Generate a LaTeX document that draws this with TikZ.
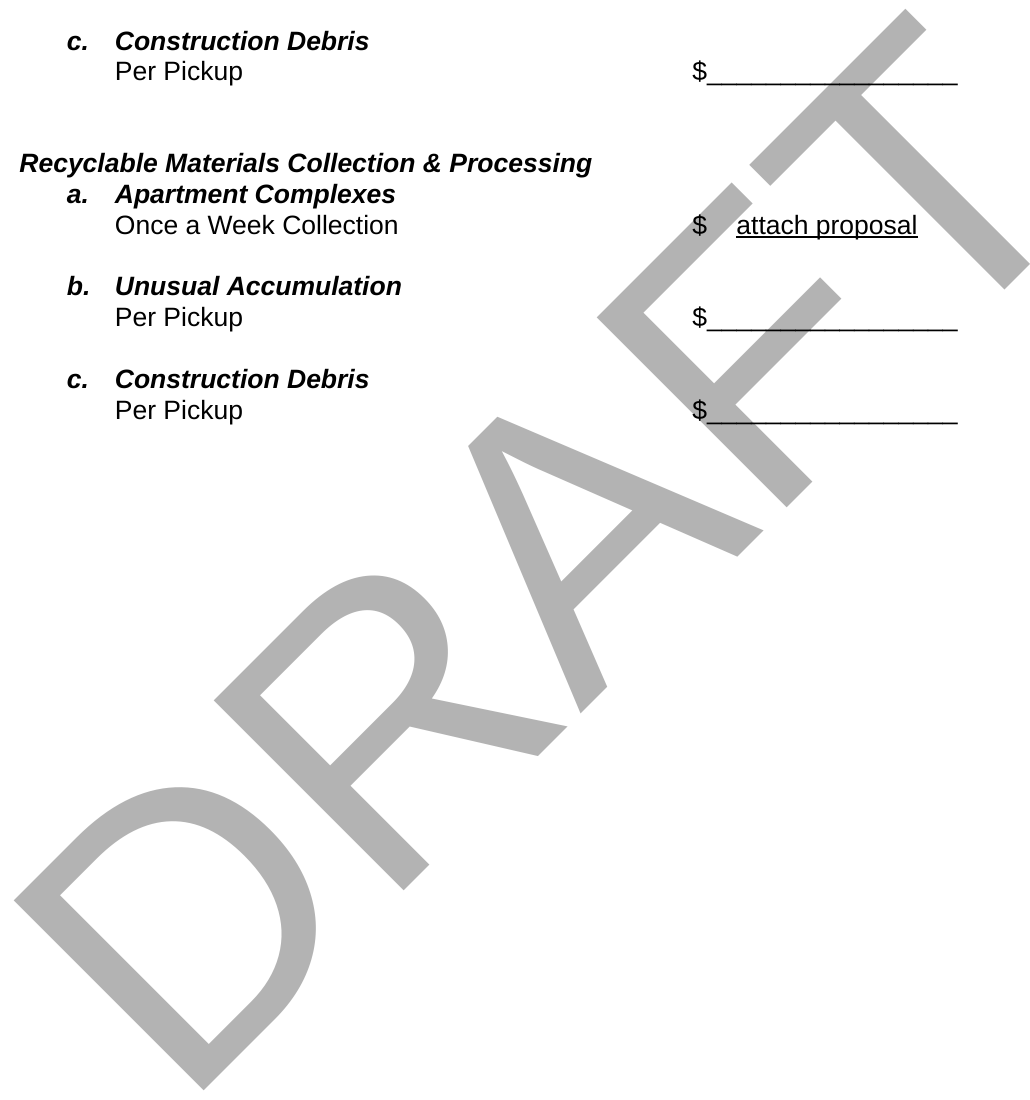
\documentclass[tikz,border=0pt]{standalone}
\usepackage{fontspec}
\setmainfont{Liberation Sans}
\newfontfamily\wmfont{Liberation Sans}[Kerning=Off]
\definecolor{wmgray}{RGB}{179,179,179}

\begin{document}
\begin{tikzpicture}[x=0.5pt,y=-0.5pt,
  every node/.style={inner sep=0pt,anchor=base west},
  txt/.style={font=\fontsize{13.25pt}{15.4pt}\selectfont},
  bi/.style={font=\fontsize{13.25pt}{15.4pt}\selectfont\bfseries\itshape},
  wmark/.style={text=wmgray,rotate=45,font=\wmfont\fontsize{195.25pt}{200pt}\selectfont}]
    \useasboundingbox (0,0) rectangle (1030,1100);
    \fill[white] (0,0) rectangle (1030,1100);
    % Watermark
    \node[wmark] (draft) at (181.7,1113.3) {DRAFT};
    % Construction debris (top)
    \node[bi] (lc1) at (66.5,50) {c.};
    \node[bi] (tc1) at (114.5,50) {Construction Debris};
    \node[txt] (sc1) at (114.5,80.7) {Per Pickup};
    \node[txt] (ac1) at (692,80.7) {\$\_\_\_\_\_\_\_\_\_\_\_\_\_\_\_\_\_};
    % Heading
    \node[bi] (head) at (19,172.9) {Recyclable Materials Collection \& Processing};
    % Items
    \node[bi] (la) at (66.5,203.7) {a.};
    \node[bi] (ta) at (114.5,203.7) {Apartment Complexes};
    \node[txt] (sa) at (114.5,234.4) {Once a Week Collection};
    \node[txt] (da) at (692,234.4) {\$};
    \node[txt] (aa) at (736,234.4) {attach proposal};
    \draw[line width=0.9pt] ([yshift=-1.4pt]aa.base west) -- ([yshift=-1.4pt]aa.base east);
    \node[bi] (lb) at (66.5,295.9) {b.};
    \node[bi] (tb) at (114.5,295.9) {Unusual Accumulation};
    \node[txt] (sb) at (114.5,326.7) {Per Pickup};
    \node[txt] (ab) at (692,326.7) {\$\_\_\_\_\_\_\_\_\_\_\_\_\_\_\_\_\_};
    \node[bi] (lc2) at (66.5,388.2) {c.};
    \node[bi] (tc2) at (114.5,388.2) {Construction Debris};
    \node[txt] (sc2) at (114.5,419) {Per Pickup};
    \node[txt] (ac2) at (692,419) {\$\_\_\_\_\_\_\_\_\_\_\_\_\_\_\_\_\_};
\end{tikzpicture}
\end{document}
